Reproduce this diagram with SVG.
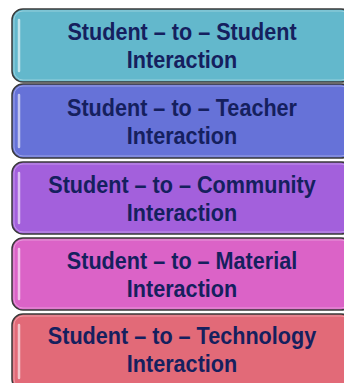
<svg xmlns="http://www.w3.org/2000/svg" width="344" height="383" viewBox="0 0 344 383">
<style>
.box{stroke:#3a3a3a;stroke-width:1.5}
.hl{stroke:#ffffff;stroke-opacity:0.6;stroke-width:2.5;stroke-linecap:round;fill:none}
.inner{fill:none;stroke:#ffffff;stroke-opacity:0.35;stroke-width:1}
.t{font-family:"Liberation Sans",Arial,sans-serif;font-weight:bold;font-size:24px;fill:#15205e;text-anchor:middle}
</style>
<rect width="344" height="383" fill="#ffffff"/>
<g id="n1">
<rect class="box" x="12" y="9" width="340" height="73" rx="11" fill="#63b8cc"/>
<rect class="inner" x="14" y="11" width="336" height="69" rx="9"/>
<line class="hl" x1="19" y1="20" x2="19" y2="71"/>
<text class="t" transform="translate(182 40) scale(0.9 1)">Student – to – Student</text>
<text class="t" transform="translate(182 68) scale(0.9 1)">Interaction</text>
</g>
<g id="n2">
<rect class="box" x="12" y="84" width="340" height="74" rx="11" fill="#6672d8"/>
<rect class="inner" x="14" y="86" width="336" height="70" rx="9"/>
<line class="hl" x1="19" y1="95" x2="19" y2="147"/>
<text class="t" transform="translate(182 116) scale(0.9 1)">Student – to – Teacher</text>
<text class="t" transform="translate(182 144) scale(0.9 1)">Interaction</text>
</g>
<g id="n3">
<rect class="box" x="12" y="162" width="340" height="72" rx="11" fill="#a360dc"/>
<rect class="inner" x="14" y="164" width="336" height="68" rx="9"/>
<line class="hl" x1="19" y1="173" x2="19" y2="223"/>
<text class="t" transform="translate(182 193) scale(0.9 1)">Student – to – Community</text>
<text class="t" transform="translate(182 221) scale(0.9 1)">Interaction</text>
</g>
<g id="n4">
<rect class="box" x="12" y="238" width="340" height="72" rx="11" fill="#db63c7"/>
<rect class="inner" x="14" y="240" width="336" height="68" rx="9"/>
<line class="hl" x1="19" y1="249" x2="19" y2="299"/>
<text class="t" transform="translate(182 269) scale(0.9 1)">Student – to – Material</text>
<text class="t" transform="translate(182 297) scale(0.9 1)">Interaction</text>
</g>
<g id="n5">
<rect class="box" x="12" y="314" width="340" height="76" rx="11" fill="#e26a78"/>
<rect class="inner" x="14" y="316" width="336" height="72" rx="9"/>
<line class="hl" x1="19" y1="325" x2="19" y2="378"/>
<text class="t" transform="translate(182 344) scale(0.9 1)">Student – to – Technology</text>
<text class="t" transform="translate(182 372) scale(0.9 1)">Interaction</text>
</g>
<g id="connectors"></g>
</svg>
